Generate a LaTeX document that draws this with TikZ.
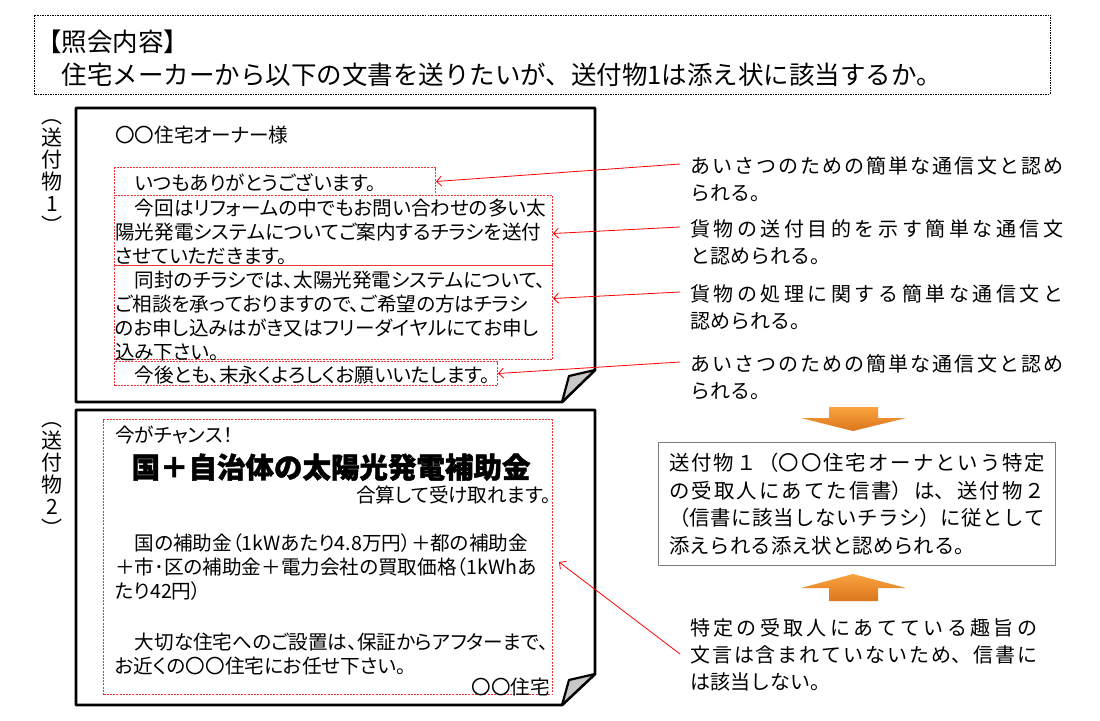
\documentclass[tikz,border=0pt]{standalone}
\usepackage{fontspec}
\setmainfont{Noto Sans CJK JP}
\newfontfamily\propfont[RawFeature=+palt]{Noto Sans CJK JP}
\newfontfamily\titlefont[BoldFeatures={FakeBold=1.6}]{Noto Sans CJK JP}
\usetikzlibrary{arrows.meta}
\XeTeXlinebreaklocale "ja"
\XeTeXlinebreakskip=0pt plus 6pt
\definecolor{memored}{RGB}{240,50,50}
\definecolor{ornlight}{RGB}{250,163,62}
\definecolor{orndark}{RGB}{219,118,30}
\definecolor{boxgray}{RGB}{125,125,125}
\definecolor{flapgray}{RGB}{200,200,200}
\begin{document}
\begin{tikzpicture}[x=1pt,y=-1pt,>={Straight Barb[length=5pt,width=10pt]},line join=round,
	doctext/.style={anchor=base west,inner sep=0pt,text width=470pt,align=left,font=\propfont\fontsize{19.6}{24.3}\selectfont},
	annot/.style={anchor=base west,inner sep=0pt,text width=#1,align=justify,font=\fontsize{20}{27.3}\selectfont},
	redbox/.style={anchor=north west,draw=memored,line width=1pt,dash pattern=on 2pt off 1.2pt,inner sep=0pt},
	redarrow/.style={->,red,line width=0.8pt},
	sidelabel/.style={align=center,inner sep=0pt,font=\fontsize{21}{22}\selectfont},
	pageline/.style={draw,line width=2.8pt,fill=white},
	flap/.style={draw,line width=2.2pt,fill=flapgray},
	bigarrow/.style={top color=ornlight,bottom color=orndark,draw=none}]
	\useasboundingbox (0,0) rectangle (1100,720);
	% header
	\draw[line width=0.8pt,dash pattern=on 1.5pt off 1pt] (34,15) rectangle (1050,94);
	\node[anchor=base west,inner sep=0pt,text width=1000pt,align=left,font=\fontsize{25.5}{33}\selectfont] (inquiry) at (36,51) {【照会内容】\\　住宅メーカーから以下の文書を送りたいが、送付物1は添え状に該当するか。};
	% enclosure 1
	\draw[pageline] (76,108) -- (595,108) -- (595,370) -- (562,402) -- (76,402) -- cycle;
	\draw[flap] (595,370) -- (569,376) -- (562,402) -- cycle;
	\node[sidelabel] (label1) at (52,177) {︵\\送\\付\\物\\1\\︶};
	\node[redbox,minimum width=321pt,minimum height=28pt] (greet1) at (114,167) {};
	\node[redbox,minimum width=438pt,minimum height=70pt] (purpose) at (114,195) {};
	\node[redbox,minimum width=438pt,minimum height=94pt] (handling) at (114,265) {};
	\node[redbox,minimum width=383pt,minimum height=24pt] (greet2) at (114,361) {};
	\node[doctext] (owner) at (115,142) {〇〇住宅オーナー様};
	\node[doctext] (greet1text) at (115,190) {　いつもありがとうございます。};
	\node[doctext] (purposetext) at (115,215) {　今回はリフォームの中でもお問い合わせの多い太\\陽光発電システムについてご案内するチラシを送付\\させていただきます。};
	\node[doctext] (handlingtext) at (115,287) {　同封のチラシでは、太陽光発電システムについて、\\ご相談を承っておりますので、ご希望の方はチラシ\\のお申し込みはがき又はフリーダイヤルにてお申し\\込み下さい。};
	\node[doctext] (greet2text) at (115,382) {　今後とも、末永くよろしくお願いいたします。};
	% enclosure 2
	\draw[pageline] (76,410) -- (595,410) -- (595,674) -- (562,705) -- (76,705) -- cycle;
	\draw[flap] (595,674) -- (569,680) -- (562,705) -- cycle;
	\node[sidelabel] (label2) at (52,480) {︵\\送\\付\\物\\2\\︶};
	\node[redbox,minimum width=449pt,minimum height=275pt] (flyer) at (103,419) {};
	\node[doctext] (chance) at (115,442) {今がチャンス！};
	\node[anchor=base,inner sep=0pt,font=\titlefont\fontsize{28.5}{30}\selectfont\bfseries] (title) at (331,478) {国＋自治体の太陽光発電補助金};
	\node[anchor=base east,inner sep=0pt,font=\propfont\fontsize{19.6}{24.3}\selectfont] (sum) at (551,502) {合算して受け取れます。};
	\node[doctext] (subsidy) at (115,550) {　国の補助金（1kWあたり4.8万円）＋都の補助金\\＋市･区の補助金＋電力会社の買取価格（1kWhあ\\たり42円）};
	\node[doctext] (install) at (115,649) {　大切な住宅へのご設置は、保証からアフターまで、\\お近くの〇〇住宅にお任せ下さい。};
	\node[anchor=base east,inner sep=0pt,font=\propfont\fontsize{19.6}{24.3}\selectfont] (maker) at (550,694) {〇〇住宅};
	% notes
	\node[annot=373pt] (greetnote1) at (690,173) {あいさつのための簡単な通信文と認め\linebreak られる。};
	\node[annot=373pt] (purposenote) at (690,236) {貨物の送付目的を示す簡単な通信文\linebreak と認められる。};
	\node[annot=373pt] (handlingnote) at (690,301) {貨物の処理に関する簡単な通信文と\linebreak 認められる。};
	\node[annot=373pt] (greetnote2) at (690,371) {あいさつのための簡単な通信文と認め\linebreak られる。};
	\node[anchor=north west,draw=boxgray,line width=1.3pt,minimum height=123pt,inner xsep=10.5pt,text width=376pt,align=justify,font=\fontsize{20.4}{27.7}\selectfont] (verdict) at (658,442) {送付物１（〇〇住宅オーナという特定\linebreak の受取人にあてた信書）は、送付物２\linebreak （信書に該当しないチラシ）に従として\linebreak 添えられる添え状と認められる。};
	\node[annot=347pt] (checknote) at (690,635) {特定の受取人にあてている趣旨の\linebreak 文言は含まれていないため、信書に\linebreak は該当しない。};
	\path[bigarrow] (829,407) -- (878,407) -- (878,418) -- (906,418) -- (853,431) -- (801,418) -- (829,418) -- cycle;
	\path[bigarrow] (853,574) -- (906,588) -- (878,588) -- (878,601) -- (829,601) -- (829,588) -- (801,588) -- cycle;
	\draw[redarrow] ([shift={(-10pt,9pt)}]greetnote1.base west) -- (greet1.east);
	\draw[redarrow] ([shift={(-10pt,9pt)}]purposenote.base west) -- ([yshift=-3pt]purpose.east);
	\draw[redarrow] ([shift={(-10pt,9pt)}]handlingnote.base west) -- ([yshift=14pt]handling.east);
	\draw[redarrow] ([shift={(-10pt,9pt)}]greetnote2.base west) -- (greet2.east);
	\draw[redarrow] ([shift={(-10pt,-19pt)}]checknote.base west) -- ([shift={(6pt,-5pt)}]flyer.east);
\end{tikzpicture}
\end{document}
